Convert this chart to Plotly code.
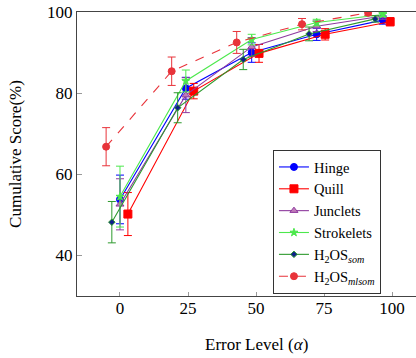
import plotly.graph_objects as go

# ---- data ----
series_names = ["Hinge", "Quill", "Junclets", "Strokelets",
                "H<sub>2</sub>OS<sub><i>som</i></sub>",
                "H<sub>2</sub>OS<sub><i>mlsom</i></sub>"]

hinge_x = [0, 24.2, 48.4, 72.3, 96.6]
hinge_y = [53.8, 81.2, 90.0, 94.5, 98.0]
hinge_err = [6.0, 2.7, 2.4, 1.5, 1.0]

quill_x = [2.9, 27.1, 51.1, 75.4, 99.3]
quill_y = [50.2, 80.5, 89.8, 94.5, 97.6]
quill_err = [5.3, 1.9, 2.2, 1.4, 1.0]

junc_x = [0, 24.2, 48.4, 72.3, 96.6]
junc_y = [52.6, 79.5, 91.4, 96.5, 99.0]
junc_err = [6.3, 4.3, 2.3, 1.3, 0.8]

strok_x = [0, 24.2, 48.4, 72.3, 96.6]
strok_y = [54.5, 83.0, 93.2, 97.4, 99.4]
strok_err = [7.5, 2.7, 1.3, 0.8, 0.5]

som_x = [-3, 21.2, 45.3, 69.5, 93.8]
som_y = [48.2, 76.4, 88.3, 94.6, 98.3]
som_err = [5.1, 3.7, 2.5, 1.7, 0.8]

mlsom_x = [-5.1, 19.0, 42.9, 66.9, 91.2]
mlsom_y = [66.8, 85.4, 92.5, 97.0, 99.8]
mlsom_err = [4.7, 3.5, 2.7, 1.4, 0.6]

x_ticks = [0, 25, 50, 75, 100]
y_ticks = [40, 60, 80, 100]

FONT = "Liberation Serif, Times New Roman, serif"

fig = go.Figure()

def add(name, xs, ys, es, color, symbol, msize, mfill=None, dash="solid", mline=None):
    fig.add_trace(go.Scatter(
        x=xs, y=ys, name=name, mode="lines+markers",
        line=dict(color=color, width=1.1, dash=dash),
        marker=dict(symbol=symbol, size=msize, color=mfill or color,
                    line=dict(color=mline or color, width=1)),
        error_y=dict(type="data", array=es, visible=True, color=color,
                     thickness=1, width=4),
    ))

add(series_names[0], hinge_x, hinge_y, hinge_err, "#0000FF", "circle", 7)
add(series_names[1], quill_x, quill_y, quill_err, "#FF0000", "square", 8)
add(series_names[2], junc_x, junc_y, junc_err, "#8E3A9E", "triangle-up", 7, mfill="#C07AB8")
add(series_names[3], strok_x, strok_y, strok_err, "#4CE84C", "star", 6)
add(series_names[4], som_x, som_y, som_err, "#2E9A2E", "diamond", 5, mfill="#10208A", mline="#2E9A2E")
add(series_names[5], mlsom_x, mlsom_y, mlsom_err, "#E8333A", "circle", 7, dash="dash")

fig.update_layout(
    width=422, height=358,
    margin=dict(l=77, r=0, t=12, b=62, autoexpand=False),
    paper_bgcolor="white", plot_bgcolor="white",
    font=dict(family=FONT, size=17, color="black"),
    showlegend=True,
    legend=dict(x=0.568, y=0.514, xanchor="left", yanchor="top",
                bgcolor="white", bordercolor="#333333", borderwidth=1,
                font=dict(family=FONT, size=14.5), itemwidth=30,
                tracegroupgap=0),
    annotations=[
        dict(text="Error Level (<i>α</i>)", xref="paper", yref="paper",
             x=0.521, y=-0.1725, xanchor="center", yanchor="middle",
             showarrow=False, font=dict(family=FONT, size=17)),
        dict(text="Cumulative Score(%)", xref="paper", yref="paper",
             x=-0.18, y=0.5, xanchor="center", yanchor="middle", textangle=-90,
             showarrow=False, font=dict(family=FONT, size=17)),
    ],
)
fig.update_xaxes(range=[-15.8, 111.0], tickvals=x_ticks, showgrid=False, zeroline=False,
                 showline=True, linecolor="#444444", linewidth=1.2, mirror=True,
                 ticks="inside", ticklen=4, tickcolor="#999999", automargin=False,
                 ticklabelstandoff=-4,
                 tickfont=dict(family=FONT, size=17))
fig.update_yaxes(range=[30, 100], tickvals=y_ticks, showgrid=False, zeroline=False,
                 showline=True, linecolor="#444444", linewidth=1.2, mirror=True,
                 ticks="inside", ticklen=5, tickcolor="#999999", automargin=False,
                 tickfont=dict(family=FONT, size=17))

fig.write_html("out.html", config={"displayModeBar": False},
               post_script="document.body.style.margin='0';document.body.style.overflow='hidden';")
